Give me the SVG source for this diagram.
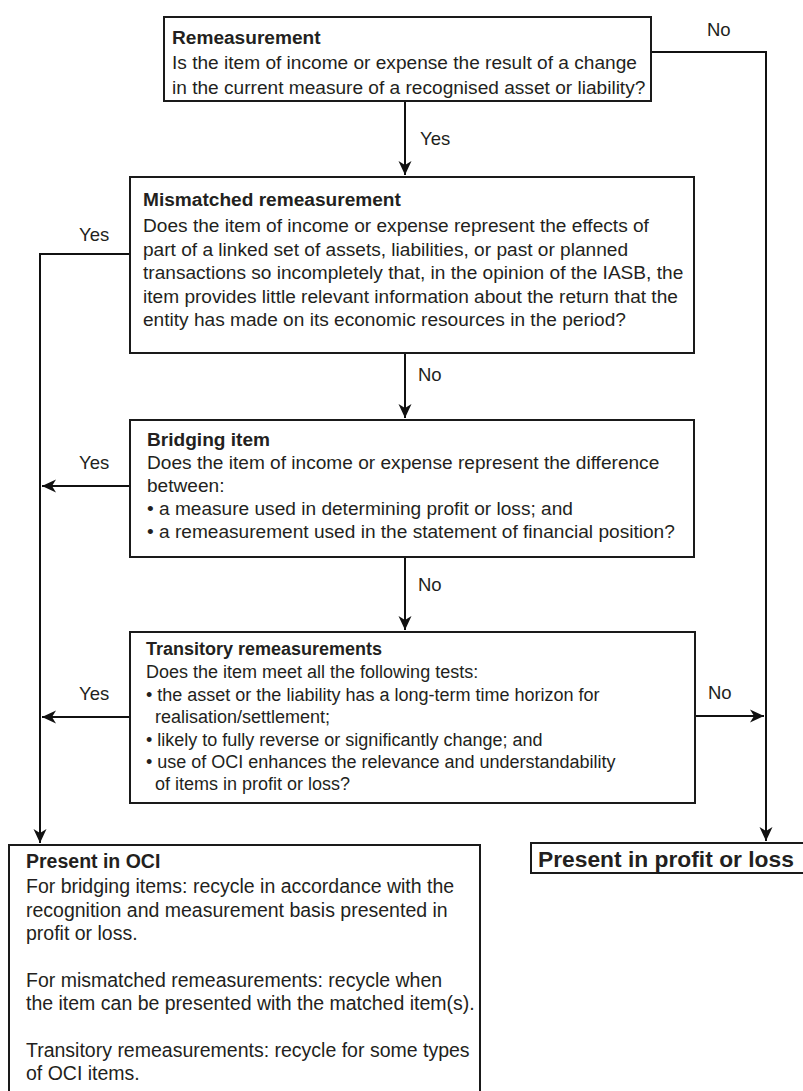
<svg xmlns="http://www.w3.org/2000/svg" width="803" height="1091" viewBox="0 0 803 1091">
<defs>
<style>
.box{fill:#ffffff;stroke:#1a1a1a;stroke-width:2}
.t{font-family:"Liberation Sans",Arial,Helvetica,sans-serif;font-size:19.1px;fill:#231f20}
.to{font-family:"Liberation Sans",Arial,Helvetica,sans-serif;font-size:19.5px;fill:#231f20}
.ts{font-family:"Liberation Sans",Arial,Helvetica,sans-serif;font-size:18px;fill:#231f20}
.tl{font-family:"Liberation Sans",Arial,Helvetica,sans-serif;font-size:22.8px;fill:#231f20}
.b{font-weight:bold}
.lbl{font-family:"Liberation Sans",Arial,Helvetica,sans-serif;font-size:18.5px;fill:#231f20}
.c{fill:none;stroke:#111111;stroke-width:2}
</style>
<marker id="ah" viewBox="-14 -7 15 14" refX="0" refY="0" markerWidth="15" markerHeight="14" markerUnits="userSpaceOnUse" orient="auto">
<path d="M0,0 L-14,-6.5 L-10,0 L-14,6.5 Z" fill="#111111"/>
</marker>
</defs>
<rect width="803" height="1091" fill="#ffffff"/>

<g id="connectors">
<path class="c" d="M651,52 H766 V841" marker-end="url(#ah)"/>
<path class="c" d="M405,101 V175" marker-end="url(#ah)"/>
<path class="c" d="M130,254 H40 V843" marker-end="url(#ah)"/>
<path class="c" d="M405,353 V418" marker-end="url(#ah)"/>
<path class="c" d="M130,486 H42" marker-end="url(#ah)"/>
<path class="c" d="M405,557 V630" marker-end="url(#ah)"/>
<path class="c" d="M130,717 H42" marker-end="url(#ah)"/>
<path class="c" d="M695,716 H764" marker-end="url(#ah)"/>
<text class="lbl" x="707" y="36">No</text>
<text class="lbl" x="420" y="145">Yes</text>
<text class="lbl" x="79" y="241">Yes</text>
<text class="lbl" x="418" y="381">No</text>
<text class="lbl" x="79" y="469">Yes</text>
<text class="lbl" x="418" y="591">No</text>
<text class="lbl" x="79" y="700">Yes</text>
<text class="lbl" x="708" y="699">No</text>
</g>

<g id="remeasurement">
<rect class="box" x="164" y="17" width="487" height="84"/>
<text class="t b" x="172" y="44">Remeasurement</text>
<text class="t" x="172" y="69">Is the item of income or expense the result of a change</text>
<text class="t" x="172" y="94">in the current measure of a recognised asset or liability?</text>
</g>

<g id="mismatched">
<rect class="box" x="130" y="177" width="564" height="176"/>
<text class="t b" x="143" y="206">Mismatched remeasurement</text>
<text class="t" x="143" y="232">Does the item of income or expense represent the effects of</text>
<text class="t" x="143" y="256">part of a linked set of assets, liabilities, or past or planned</text>
<text class="t" x="143" y="279">transactions so incompletely that, in the opinion of the IASB, the</text>
<text class="t" x="143" y="303">item provides little relevant information about the return that the</text>
<text class="t" x="143" y="326">entity has made on its economic resources in the period?</text>
</g>

<g id="bridging">
<rect class="box" x="130" y="420" width="564" height="137"/>
<text class="t b" x="147" y="446">Bridging item</text>
<text class="t" x="147" y="469">Does the item of income or expense represent the difference</text>
<text class="t" x="147" y="492">between:</text>
<text class="t" x="147" y="515">• a measure used in determining profit or loss; and</text>
<text class="t" x="147" y="538">• a remeasurement used in the statement of financial position?</text>
</g>

<g id="transitory">
<rect class="box" x="130" y="632" width="565" height="171"/>
<text class="ts b" x="146" y="655">Transitory remeasurements</text>
<text class="ts" x="146" y="678">Does the item meet all the following tests:</text>
<text class="ts" x="146" y="701">• the asset or the liability has a long-term time horizon for</text>
<text class="ts" x="155" y="723">realisation/settlement;</text>
<text class="ts" x="146" y="746">• likely to fully reverse or significantly change; and</text>
<text class="ts" x="146" y="768">• use of OCI enhances the relevance and understandability</text>
<text class="ts" x="155" y="790">of items in profit or loss?</text>
</g>

<g id="present-oci">
<rect class="box" x="9" y="845" width="471" height="270"/>
<text class="to b" x="26" y="868">Present in OCI</text>
<text class="to" x="26" y="893">For bridging items: recycle in accordance with the</text>
<text class="to" x="26" y="917">recognition and measurement basis presented in</text>
<text class="to" x="26" y="940">profit or loss.</text>
<text class="to" x="26" y="987">For mismatched remeasurements: recycle when</text>
<text class="to" x="26" y="1010">the item can be presented with the matched item(s).</text>
<text class="to" x="26" y="1057">Transitory remeasurements: recycle for some types</text>
<text class="to" x="26" y="1080">of OCI items.</text>
</g>

<g id="present-pl">
<rect class="box" x="531" y="843" width="290" height="30"/>
<text class="tl b" x="538" y="867">Present in profit or loss</text>
</g>
</svg>
